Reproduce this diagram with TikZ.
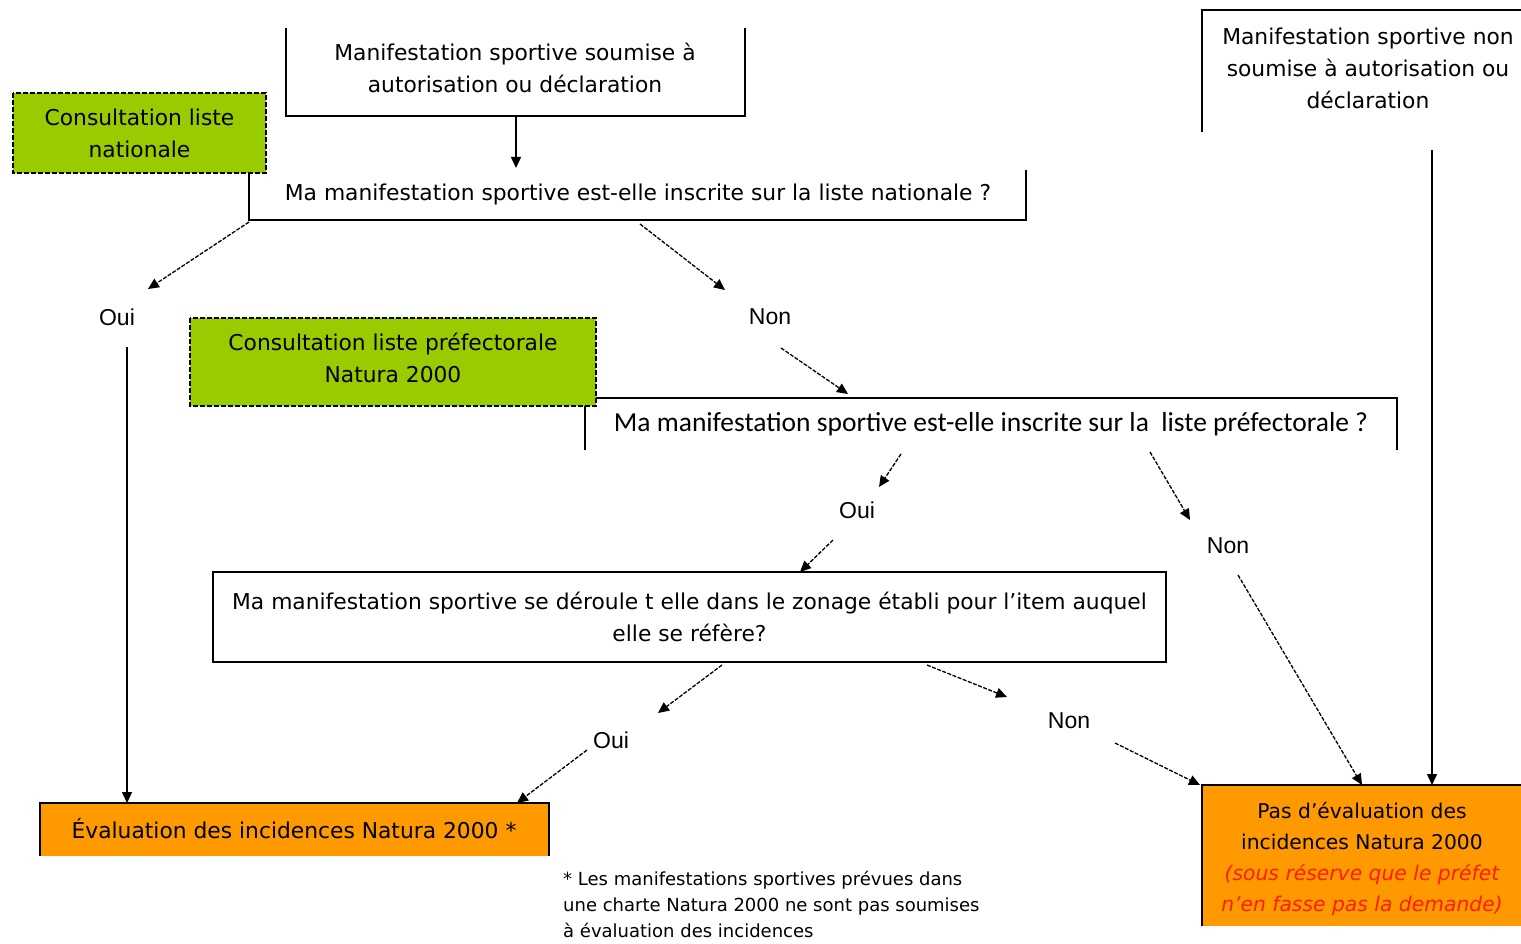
\documentclass[tikz,border=0pt]{standalone}
\usepackage{fontspec}
\setmainfont{DejaVu Sans}
\newfontfamily\arialf{Liberation Sans}
\newfontfamily\calib{Carlito}
\usetikzlibrary{arrows.meta}
\definecolor{vert}{RGB}{153,204,0}
\definecolor{orangeb}{RGB}{255,153,0}
\definecolor{rouge}{RGB}{255,30,0}
\begin{document}
\begin{tikzpicture}[x=1pt,y=-1pt,
  every node/.style={inner sep=0pt},
  txt/.style={font=\fontsize{21.8}{32}\selectfont, align=center},
  lbl/.style={font=\arialf\fontsize{23}{26}\selectfont},
  dsh/.style={-{Triangle[length=11pt,width=10pt]}, dash pattern=on 4pt off 1.5pt, line width=1.3pt},
  sol/.style={-{Triangle[length=11pt,width=10pt]}, line width=1.4pt},
  frame/.style={line width=1.6pt},
  greenbox/.style={fill=vert, draw, dash pattern=on 5pt off 2pt, line width=1.4pt}]
\useasboundingbox (0,0) rectangle (1521,944);

% green boxes
\path[greenbox] (13,93) rectangle (266,173);
\node[txt] (g1) at (139.5,133) {Consultation liste\\nationale};
\path[greenbox] (190,318) rectangle (596,406);
\node[txt] (g2) at (393,358) {Consultation liste préfectorale\\Natura 2000};

% top box
\draw[frame] (286,28) -- (286,116) -- (745,116) -- (745,28);
\node[txt] (top) at (515,68) {Manifestation sportive soumise à\\autorisation ou déclaration};

% top right box
\draw[frame] (1202,132) -- (1202,10) -- (1521,10);
\node[txt] (topr) at (1368,68) {Manifestation sportive non\\soumise à autorisation ou\\déclaration};

% Q1
\draw[frame] (249,173) -- (249,220) -- (1026,220) -- (1026,170);
\node[txt] (q1) at (638,194) {Ma manifestation sportive est-elle inscrite sur la liste nationale ?};

% Q2
\draw[frame] (585,406) -- (585,450);
\draw[frame] (596,398) -- (1397,398) -- (1397,450);
\node[font=\calib\fontsize{27.5}{30}\selectfont] (q2) at (991,424) {Ma manifestation sportive est-elle inscrite sur la\ \ liste préfectorale ?};

% Q3 zonage
\node[txt, draw, frame, minimum width=953, minimum height=90] (q3) at (689.5,617) {Ma manifestation sportive se déroule t elle dans le zonage établi pour l'item auquel\\elle se réfère?};

% Evaluation
\fill[orangeb] (40,803) rectangle (549,856);
\draw[frame] (40,856) -- (40,803) -- (549,803) -- (549,856);
\node[txt] (ev) at (294,829) {Évaluation des incidences Natura 2000 *};

% Pas d'evaluation
\fill[orangeb] (1202,785) rectangle (1521,926);
\draw[frame] (1202,926) -- (1202,785) -- (1521,785);
\node[txt, font=\fontsize{20.3}{31.3}\selectfont] (pas) at (1362,859) {Pas d'évaluation des\\incidences Natura 2000\\\textcolor{rouge}{\itshape (sous réserve que le préfet}\\\textcolor{rouge}{\itshape n'en fasse pas la demande)}};

% footnote
\node[font=\fontsize{18}{26}\selectfont, align=left, anchor=north west] (fn) at (563,871) {* Les manifestations sportives prévues dans\\une charte Natura 2000 ne sont pas soumises\\à évaluation des incidences};

% labels
\node[lbl] (oui1) at (117,317) {Oui};
\node[lbl] (non1) at (770,317) {Non};
\node[lbl] (oui2) at (857,510) {Oui};
\node[lbl] (non2) at (1228,546) {Non};
\node[lbl] (oui3) at (611,740) {Oui};
\node[lbl] (non3) at (1069,721) {Non};

% coordinates
\coordinate (c1a) at (516,116); \coordinate (c1b) at (516,168);
\coordinate (a1s) at (249,222); \coordinate (a1e) at (148,289);
\coordinate (a2s) at (640,224); \coordinate (a2e) at (725,290);
\coordinate (a3s) at (781,348); \coordinate (a3e) at (848,394);
\coordinate (a4s) at (901,454); \coordinate (a4e) at (879,487);
\coordinate (a5s) at (833,540); \coordinate (a5e) at (800,572);
\coordinate (a6s) at (1150,452); \coordinate (a6e) at (1190,520);
\coordinate (a7s) at (1238,575); \coordinate (a7e) at (1362,785);
\coordinate (a8s) at (722,665); \coordinate (a8e) at (658,713);
\coordinate (a9s) at (927,665); \coordinate (a9e) at (1007,697);
\coordinate (a10s) at (587,750); \coordinate (a10e) at (517,803);
\coordinate (a11s) at (1115,743); \coordinate (a11e) at (1200,785);
\coordinate (v1s) at (127,347); \coordinate (v1e) at (127,803);
\coordinate (v2s) at (1432,150); \coordinate (v2e) at (1432,785);

% connectors
\draw[sol] (c1a) -- (c1b);
\draw[sol] (v1s) -- (v1e);
\draw[sol] (v2s) -- (v2e);
\draw[dsh] (a1s) -- (a1e);
\draw[dsh] (a2s) -- (a2e);
\draw[dsh] (a3s) -- (a3e);
\draw[dsh] (a4s) -- (a4e);
\draw[dsh] (a5s) -- (a5e);
\draw[dsh] (a6s) -- (a6e);
\draw[dsh] (a7s) -- (a7e);
\draw[dsh] (a8s) -- (a8e);
\draw[dsh] (a9s) -- (a9e);
\draw[dsh] (a10s) -- (a10e);
\draw[dsh] (a11s) -- (a11e);
\end{tikzpicture}
\end{document}
